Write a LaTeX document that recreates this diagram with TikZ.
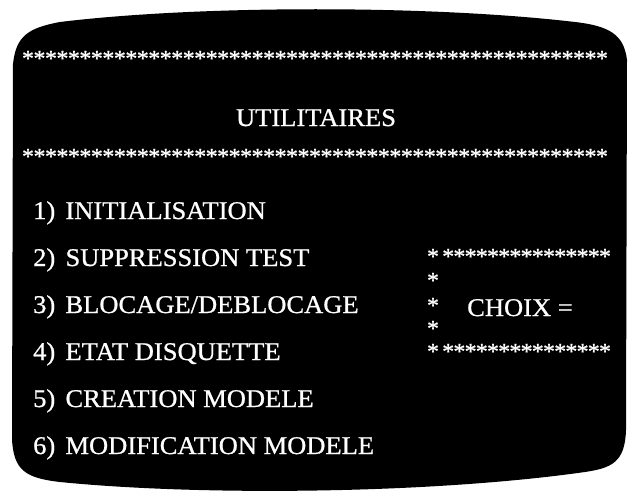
\documentclass[tikz,border=0pt]{standalone}
\usepackage{fontspec}
\setmainfont{Liberation Serif}
\newfontfamily\crt[FakeStretch=1.04,FakeBold=0.8]{Liberation Serif}
\usetikzlibrary{positioning}

\begin{document}
\begin{tikzpicture}[x=1pt, y=-1pt,
    screen/.style={fill=black},
    menu/.style={text=white, anchor=base west, inner sep=0pt, font=\crt\fontsize{25.5}{28}\selectfont},
    title/.style={text=white, anchor=base, inner sep=0pt, font=\crt\fontsize{25.5}{28}\selectfont},
    star/.style={text=white, anchor=base, inner sep=0pt, font=\crt\fontsize{23}{23}\selectfont}]
    \useasboundingbox (0,0) rectangle (630,503);
    \fill[white] (0,0) rectangle (630,503);

    % the screen
    \path[screen] (13,64) .. controls (16,36) and (28,28) .. (60,22)
      .. controls (200,5) and (430,5) .. (575,22)
      .. controls (610,26) and (624,35) .. (627,60)
      -- (626,430)
      .. controls (625,462) and (612,468) .. (585,472)
      .. controls (430,494) and (200,496) .. (60,482)
      .. controls (25,478) and (14,470) .. (12,440) -- cycle;

    % rows of stars
    \foreach \i in {0,...,50} {
      \node[star] (t\i) at (28+\i*11.48, 66) {*};
      \node[star] (u\i) at (28+\i*11.48, 164) {*};
    }

    \node[title] (h) at (316,126) {UTILITAIRES};

    \node[menu] (m1) at (33,219) {1)\hspace{0.4em}INITIALISATION};
    \node[menu] (m2) at (33,266) {2)\hspace{0.4em}SUPPRESSION TEST};
    \node[menu] (m3) at (33,313) {3)\hspace{0.4em}BLOCAGE/DEBLOCAGE};
    \node[menu] (m4) at (33,360) {4)\hspace{0.4em}ETAT DISQUETTE};
    \node[menu] (m5) at (33,407) {5)\hspace{0.4em}CREATION MODELE};
    \node[menu] (m6) at (33,454) {6)\hspace{0.4em}MODIFICATION MODELE};

    % the box round CHOIX
    \node[star] (b0) at (433,264) {*};
    \node[star] (c0) at (433,359) {*};
    \foreach \j in {1,...,15} {
      \node[star] (b\j) at (437+\j*11.2, 264) {*};
      \node[star] (c\j) at (437+\j*11.2, 359) {*};
    }
    \node[star] (s1) at (433,288) {*};
    \node[star] (s2) at (433,313) {*};
    \node[star] (s3) at (433,336) {*};
    \node[menu] (ch) at (467,316) {CHOIX =};
\end{tikzpicture}
\end{document}
